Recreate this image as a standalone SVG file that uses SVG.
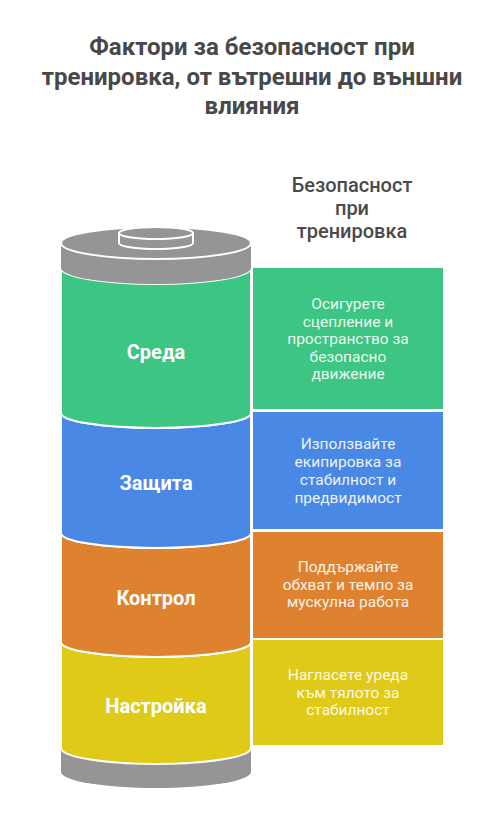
<svg xmlns="http://www.w3.org/2000/svg" width="504" height="834" viewBox="0 0 504 834">
<style>
.title{font-family:Roboto,"Liberation Sans",sans-serif;font-weight:bold;font-size:24px;fill:#484848;text-anchor:middle}
.head{font-family:Roboto,"Liberation Sans",sans-serif;font-weight:500;font-size:20px;fill:#4a4a4a;text-anchor:middle}
.lbl{font-family:Roboto,"Liberation Sans",sans-serif;font-weight:bold;font-size:20px;fill:#ffffff;text-anchor:middle}
.desc{font-family:Roboto,"Liberation Sans",sans-serif;font-size:15.5px;fill:#ffffff;fill-opacity:0.92;text-anchor:middle}
.seg{stroke:#ffffff;stroke-width:2}
.gray{fill:#959595}
.green{fill:#3dc583}
.blue{fill:#4a88e5}
.orange{fill:#de8230}
.yellow{fill:#dfca17}
</style>
<rect width="504" height="834" fill="#ffffff"/>
<g id="title">
<text class="title" x="252" y="55">Фактори за безопасност при</text>
<text class="title" x="252" y="85">тренировка, от вътрешни до външни</text>
<text class="title" x="252" y="114">влияния</text>
</g>
<g id="header">
<text class="head" x="352" y="192">Безопасност</text>
<text class="head" x="352" y="215">при</text>
<text class="head" x="352" y="238">тренировка</text>
</g>
<g id="cylinder-bottom">
<path class="gray" d="M61,748 L61,772 A95,16 0 0,0 251,772 L251,748 Z"/>
</g>
<g id="node-nastroika">
<path class="yellow seg" d="M61,642 A95,15 0 0,0 251,642 L251,748 A95,16 0 0,1 61,748 Z"/>
<text class="lbl" x="156" y="713">Настройка</text>
</g>
<g id="node-kontrol">
<path class="orange seg" d="M61,533 A95,15 0 0,0 251,533 L251,642 A95,15 0 0,1 61,642 Z"/>
<text class="lbl" x="156" y="605">Контрол</text>
</g>
<g id="node-zashtita">
<path class="blue seg" d="M61,413 A95,15 0 0,0 251,413 L251,533 A95,15 0 0,1 61,533 Z"/>
<text class="lbl" x="156" y="490">Защита</text>
</g>
<g id="node-sreda">
<path class="green seg" d="M61,268 A95,16 0 0,0 251,268 L251,413 A95,15 0 0,1 61,413 Z"/>
<text class="lbl" x="156" y="359">Среда</text>
</g>
<g id="cylinder-top">
<path class="gray" d="M61,243 L61,268 A95,16 0 0,0 251,268 L251,243 Z"/>
<ellipse class="gray seg" cx="156" cy="243" rx="95" ry="16"/>
<path class="gray seg" d="M119,233 L119,243 A37,6 0 0,0 193,243 L193,233 Z"/>
<ellipse class="gray seg" cx="156" cy="233" rx="37" ry="6"/>
</g>
<g id="desc-sreda">
<rect class="green" x="253" y="268" width="190" height="141"/>
<text class="desc" x="348" y="309">Осигурете</text>
<text class="desc" x="348" y="327">сцепление и</text>
<text class="desc" x="348" y="344">пространство за</text>
<text class="desc" x="348" y="362">безопасно</text>
<text class="desc" x="348" y="379">движение</text>
</g>
<g id="desc-zashtita">
<rect class="blue" x="253" y="412" width="190" height="117"/>
<text class="desc" x="348" y="449">Използвайте</text>
<text class="desc" x="348" y="467">екипировка за</text>
<text class="desc" x="348" y="485">стабилност и</text>
<text class="desc" x="348" y="503">предвидимост</text>
</g>
<g id="desc-kontrol">
<rect class="orange" x="253" y="532" width="190" height="106"/>
<text class="desc" x="348" y="572">Поддържайте</text>
<text class="desc" x="348" y="590">обхват и темпо за</text>
<text class="desc" x="348" y="607">мускулна работа</text>
</g>
<g id="desc-nastroika">
<rect class="yellow" x="253" y="640" width="190" height="105"/>
<text class="desc" x="348" y="680">Нагласете уреда</text>
<text class="desc" x="348" y="698">към тялото за</text>
<text class="desc" x="348" y="715">стабилност</text>
</g>
<g id="connectors"></g>
</svg>
